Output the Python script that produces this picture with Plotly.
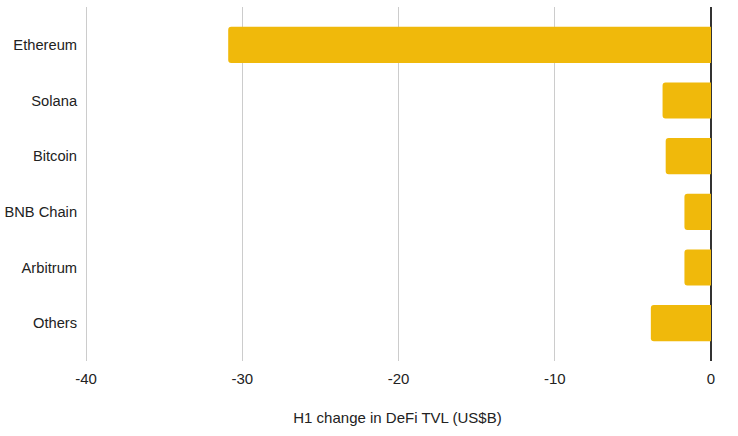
import plotly.graph_objects as go

chains = ['Ethereum', 'Solana', 'Bitcoin', 'BNB Chain', 'Arbitrum', 'Others']
tvl_change = [-30.9, -3.1, -2.9, -1.7, -1.7, -3.85]
x_ticks = [-40, -30, -20, -10, 0]
x_tick_labels = ['-40', '-30', '-20', '-10', '0']

fig = go.Figure()
fig.add_trace(go.Bar(
    x=tvl_change,
    y=chains,
    orientation='h',
    marker=dict(color='#F0B90B', cornerradius=3, line=dict(width=0)),
    hoverinfo='x+y',
))

fig.update_layout(
    width=738, height=436,
    margin=dict(l=84, r=27, t=7, b=75, autoexpand=False),
    paper_bgcolor='white',
    plot_bgcolor='white',
    font=dict(family='Liberation Sans, Arial, sans-serif', size=15, color='#222222'),
    bargap=0.35,
    showlegend=False,
    xaxis=dict(
        # a hair past -40 so the -40 grid line is not clipped at the edge
        range=[-40.13, 0],
        tickvals=x_ticks, ticktext=x_tick_labels,
        showgrid=True, gridcolor='#cccccc', gridwidth=1,
        zeroline=True, zerolinecolor='#333333', zerolinewidth=1.5,
        ticks='outside', ticklen=4, tickcolor='rgba(0,0,0,0)',
        automargin=False,
        title=dict(text='H1 change in DeFi TVL (US$B)', standoff=26,
                   font=dict(size=15, color='#222222')),
    ),
    yaxis=dict(
        categoryorder='array', categoryarray=chains,
        range=[5.68, -0.68],
        showgrid=False, zeroline=False,
        ticks='outside', ticklen=3, tickcolor='rgba(0,0,0,0)',
        tickfont=dict(size=14.7),
        automargin=False,
    ),
)

# drop the default page margin so the chart sits at the window corner
fig.write_html('out.html', config={'displayModeBar': False},
               post_script="document.body.style.margin='0';")
